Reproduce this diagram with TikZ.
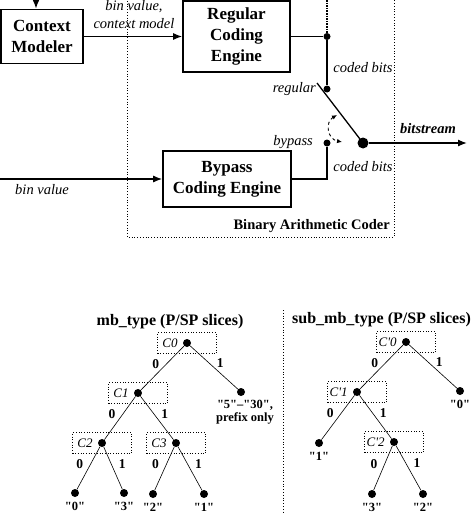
\documentclass[tikz,border=0pt]{standalone}
\usepackage{fontspec}
\setmainfont{Liberation Serif}[Ligatures=TeXOff]
\usetikzlibrary{positioning,arrows.meta}
\tikzstyle{block}=[draw,line width=1.6pt,align=center,font=\fontsize{17}{21}\selectfont\bfseries,inner sep=0pt]
\tikzstyle{lab}=[font=\fontsize{14.5}{18}\selectfont\itshape,inner sep=0pt,align=center]
\tikzstyle{blab}=[font=\fontsize{14.5}{18}\selectfont\bfseries,inner sep=0pt]
\tikzstyle{wire}=[draw,line width=1.3pt]
\tikzstyle{arr}=[wire,-{Latex[length=9pt,width=7pt]}]
\tikzstyle{junc}=[circle,fill=black,minimum size=7pt,inner sep=0pt]
\tikzstyle{vertex}=[circle,fill=black,minimum size=8pt,inner sep=0pt]
\tikzstyle{branch}=[draw,line width=0.6pt,-]
\tikzstyle{ctx}=[draw,dotted,line width=0.7pt,minimum width=59pt,minimum height=21pt,inner sep=0pt]
\tikzstyle{ctxname}=[font=\fontsize{13}{15}\selectfont\itshape,inner sep=0pt]
\tikzstyle{bit}=[font=\fontsize{13.5}{15}\selectfont\bfseries,inner sep=0pt]
\tikzstyle{leaf}=[font=\fontsize{12.5}{13}\selectfont\bfseries,inner sep=0pt,align=center]
\tikzstyle{treetitle}=[font=\fontsize{16}{19}\selectfont\bfseries,inner sep=0pt]

\begin{document}
\begin{tikzpicture}[x=1pt,y=-1pt]
    \useasboundingbox (0,0) rectangle (474,514);
    % codeur
    \node[block,minimum width=82pt,minimum height=54pt] (cm) at (42,36.5) {Context\\Modeler};
    \node[block,minimum width=107pt,minimum height=71pt] (rce) at (236.5,36.5) {Regular\\Coding\\Engine};
    \node[block,minimum width=128pt,minimum height=56pt] (bce) at (227,179) {Bypass\\Coding Engine};
    \coordinate (cmin) at (36,0);
    \draw[arr] (cmin) -- (cmin |- cm.north);
    \draw[arr] (cm) -- (rce);
    \node[lab] (binctx) at (134,15) {bin value,\\context model};
    \node[junc] (j1) at (327,36.5) {};
    \node[junc] (rdot) at (327,89) {};
    \node[junc] (bdot) at (327,143) {};
    \node[circle,fill=black,minimum size=11pt,inner sep=0pt] (out) at (363,143) {};
    \coordinate (jtop) at (327,0);
    \coordinate (sw) at (317,83);
    \coordinate (binin) at (0,179);
    \coordinate (bs) at (467,143);
    \draw[wire] (rce) -- (j1) -- (rdot);
    \draw[line width=1.6pt,densely dotted] (jtop) -- (j1);
    \draw[wire] (sw) -- (out.center);
    \draw[wire] (bdot) |- (bce.east);
    \draw[arr] (binin) -- (bce.west);
    \draw[arr] (out) -- (bs);
    \node[lab] (cb1) at (363,68) {coded bits};
    \node[lab] (cb2) at (363,167) {coded bits};
    \node[lab,anchor=east] (reglab) at (316,89) {regular};
    \node[lab,anchor=east] (bylab) at (313,142) {bypass};
    \node[lab] (binlab) at (42,190) {bin value};
    \node[blab,font=\fontsize{14.5}{18}\selectfont\bfseries\itshape] (bslab) at (428,129) {bitstream};
    \coordinate (ca) at (337,115);
    \coordinate (cb) at (342,142);
    \draw[dashed,line width=0.9pt,{Latex[length=5pt,width=4.5pt]}-{Latex[length=5pt,width=4.5pt]}] (ca) .. controls (325,122) and (327,139) .. (cb);
    \coordinate (bacnw) at (127,-2);
    \coordinate (bacse) at (394,237);
    \draw[dotted,line width=0.8pt] (bacnw) -- (bacnw |- bacse) -- (bacse) -- (bacse |- bacnw);
    \node[blab,anchor=east] (baclab) at (390,226) {Binary Arithmetic Coder};
    % arbres
    \node[treetitle] (t1) at (170,322) {mb\_type (P/SP slices)};
    \node[treetitle,anchor=west] (t2) at (292,320) {sub\_mb\_type (P/SP slices)};
    \coordinate (septop) at (283,310);
    \coordinate (sepbot) at (283,514);
    \draw[dotted,line width=0.8pt] (septop) -- (sepbot);
    \foreach \pos/\name/\txt in {{(187,343)/c0/C0}, {(138,393)/c1/C1}, {(102,443)/c2/C2}, {(176,443)/c3/C3}, {(406,342)/d0/C'0}, {(357,392)/d1/C'1}, {(394,442)/d2/C'2}}
    {
        \node[ctx] (box\name) at \pos {};
        \node[vertex] (\name) at \pos {};
        \node[ctxname,anchor=east] (nm\name) at ([xshift=-5pt]\name.west) {\txt};
    }
    \foreach \pos/\name/\txt in {{(75,493)/l0/"0"}, {(124,493)/l3/"3"}, {(153,494)/l2/"2"}, {(204,494)/l1/"1"}, {(460,391)/s0/"0"}, {(319,443)/s1/"1"}, {(372,494)/s3/"3"}, {(423,494)/s2/"2"}}
    {
        \node[vertex] (\name) at \pos {};
        \node[leaf,below=4.5pt of \name] (t\name) {\txt};
    }
    \node[vertex] (r5) at (241,392) {};
    \node[leaf,below=4pt of r5,xshift=4pt] (tr5) {"5"–"30",\\prefix only};
    \foreach \a/\b/\d in {c0/c1/0, c0/r5/1, c1/c2/0, c1/c3/1, c2/l0/0, c2/l3/1, c3/l2/0, c3/l1/1, d0/d1/0, d0/s0/1, d1/s1/0, d1/d2/1, d2/s3/0, d2/s2/1}
        \path[branch] (\a) -- node[bit,pos=0.4,xshift={(2*\d-1)*11pt}] (b\a\b) {\d} (\b);
\end{tikzpicture}
\end{document}
